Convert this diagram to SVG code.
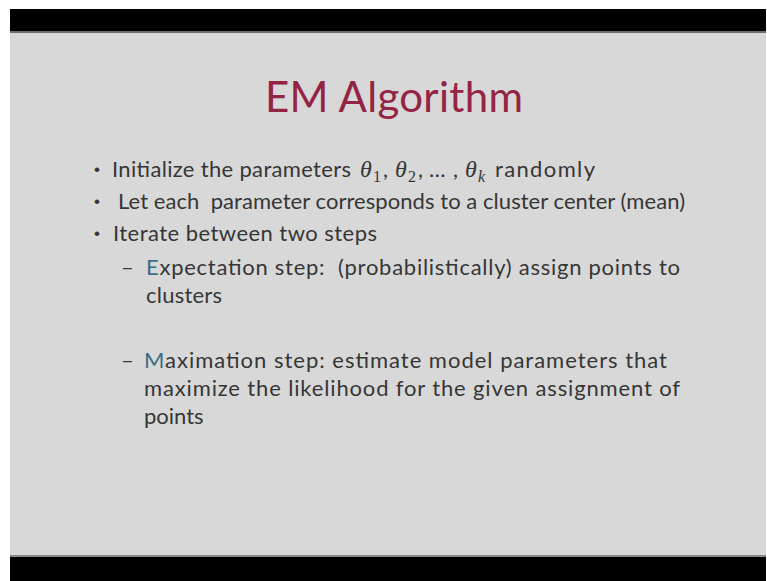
<svg xmlns="http://www.w3.org/2000/svg" width="767" height="581" viewBox="0 0 767 581">
<style>
.body{font-family:Lato,"Open Sans","Liberation Sans",sans-serif;font-size:22px;fill:#363636}
.bul{font-family:"Liberation Sans",sans-serif;font-size:17px;fill:#363636}
.title{font-family:Lato,"Open Sans","Liberation Sans",sans-serif;font-size:42px;fill:#942443}
.math{font-family:"Liberation Serif","DejaVu Serif",serif;font-style:italic;font-size:24px;fill:#363636}
.sub{font-family:"Liberation Serif","DejaVu Serif",serif;font-size:16px;fill:#363636}
.hl{fill:#3a6d86}
</style>
<rect x="0" y="0" width="767" height="581" fill="#ffffff"/>
<rect x="10" y="9" width="756" height="572" fill="#d8d8d8"/>
<rect x="10" y="9" width="756" height="22" fill="#000000"/>
<rect x="10" y="31" width="756" height="2" fill="#6e6e6e"/>
<rect x="10" y="555" width="756" height="2" fill="#8a8a8a"/>
<rect x="10" y="557" width="756" height="24" fill="#000000"/>
<g id="title">
<text class="title" x="265" y="112" textLength="258">EM Algorithm</text>
</g>
<g id="bullet1">
<text class="bul" x="94" y="175">•</text>
<text class="body" x="112" y="177" textLength="239">Initialize the parameters</text>
<text class="math" x="360" y="177">θ</text><text class="sub" x="373" y="182">1</text><text class="body" x="383" y="177">,</text>
<text class="math" x="395" y="177">θ</text><text class="sub" x="408" y="182">2</text><text class="body" x="418" y="177">,</text>
<text class="body" x="429" y="177">…</text><text class="body" x="453" y="177">,</text>
<text class="math" x="465" y="177">θ</text><text class="sub" x="478" y="182" font-style="italic">k</text>
<text class="body" x="495" y="177" textLength="100">randomly</text>
</g>
<g id="bullet2">
<text class="bul" x="94" y="207">•</text>
<text class="body" x="118" y="209" textLength="567" xml:space="preserve">Let each  parameter corresponds to a cluster center (mean)</text>
</g>
<g id="bullet3">
<text class="bul" x="94" y="239">•</text>
<text class="body" x="113" y="241" textLength="264">Iterate between two steps</text>
</g>
<g id="sub1">
<text class="body" x="121" y="275" textLength="15">–</text>
<text class="body" x="146" y="275" textLength="534" xml:space="preserve"><tspan class="hl">E</tspan>xpectation step:  (probabilistically) assign points to</text>
<text class="body" x="146" y="303" textLength="76">clusters</text>
</g>
<g id="sub2">
<text class="body" x="121" y="368" textLength="15">–</text>
<text class="body" x="144" y="368" textLength="523"><tspan class="hl">M</tspan>aximation step: estimate model parameters that</text>
<text class="body" x="144" y="396" textLength="536">maximize the likelihood for the given assignment of</text>
<text class="body" x="144" y="424">points</text>
</g>
</svg>
